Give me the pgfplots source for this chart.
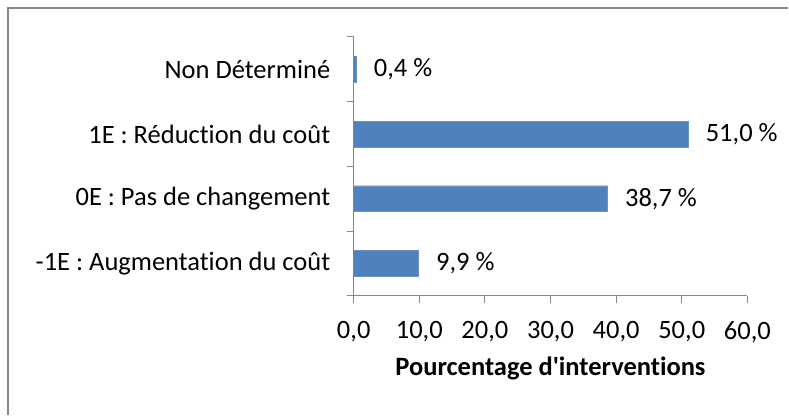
\documentclass[border=0pt]{standalone}
\usepackage{pgfplots}
\pgfplotsset{compat=1.18}
\usepackage{fontspec}
\setmainfont{Carlito}[RawFeature={-liga;-clig;-calt;-dlig}]
\definecolor{barblue}{HTML}{4F81BD}
\definecolor{axgrey}{HTML}{868686}
\begin{document}
\begin{tikzpicture}
\path (0pt,0pt) rectangle (789pt,415pt);
\draw[axgrey,line width=1.4pt] (8pt,0pt) -- (8pt,407pt) -- (789pt,407pt);
\begin{axis}[
  at={(354pt,119pt)}, anchor=south west,
  scale only axis, width=394pt, height=259pt,
  xmin=0, xmax=60, ymin=-0.5, ymax=3.5,
  xbar, bar width=26pt,
  axis y line*=left, axis x line*=bottom,
  axis line style={axgrey, line width=1pt},
  xtick={0,10,...,60},
  ytick={0,1,2,3},
  yticklabels={-1E : Augmentation du coût, 0E : Pas de changement, 1E : Réduction du coût, Non Déterminé},
  minor ytick={-0.5,0.5,1.5,2.5,3.5},
  tick align=outside,
  major tick length=7pt, minor tick length=7pt,
  major y tick style={draw=none},
  tick style={axgrey, line width=1pt},
  minor tick style={axgrey, line width=1pt},
  /pgf/number format/.cd, fixed, fixed zerofill, precision=1, use comma, assume math mode=true,
  /pgfplots/.cd,
  xticklabel style={font=\fontsize{26.5}{30}\selectfont, yshift=-15pt},
  yticklabel style={font=\fontsize{26.5}{30}\selectfont, xshift=-13pt},
  xlabel={\textbf{Pourcentage d\textquotesingle interventions}},
  xlabel style={font=\fontsize{26.5}{30}\selectfont, yshift=-8pt},
  nodes near coords,
  point meta=explicit symbolic,
  nodes near coords style={font=\fontsize{26.5}{30}\selectfont, anchor=west, xshift=14pt},
]
\addplot[fill=barblue, draw=barblue!85!white] coordinates {
  (9.9,0) [9,9 \%]
  (38.7,1) [38,7 \%]
  (51.0,2) [51,0 \%]
  (0.4,3) [0,4 \%]
};
\end{axis}
\end{tikzpicture}
\end{document}
